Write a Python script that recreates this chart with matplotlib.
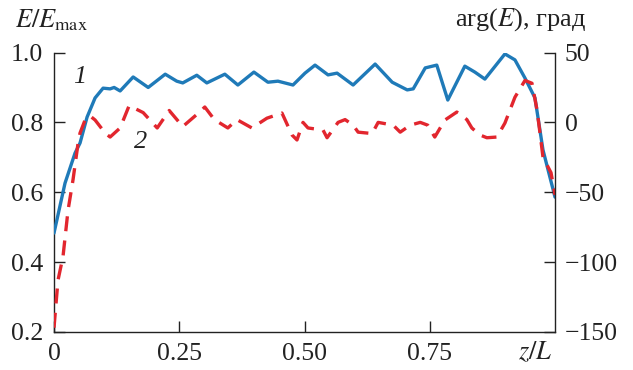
import numpy as np
import matplotlib
matplotlib.use('Agg')
import matplotlib.pyplot as plt

plt.rcParams['font.family'] = ['Liberation Serif', 'DejaVu Serif']
plt.rcParams['mathtext.fontset'] = 'stix'

# curve 1: E/Emax (left axis)
z1 = [0, 0.022, 0.042, 0.052, 0.066, 0.082, 0.098, 0.112, 0.120, 0.132, 0.158,
      0.188, 0.222, 0.245, 0.257, 0.285, 0.305, 0.341, 0.367, 0.399, 0.427, 0.447,
      0.477, 0.501, 0.521, 0.547, 0.565, 0.597, 0.641, 0.675, 0.705, 0.717, 0.741,
      0.764, 0.786, 0.820, 0.840, 0.860, 0.900, 0.920, 0.940, 0.960, 0.976, 1.0]
e1 = [0.483, 0.626, 0.712, 0.741, 0.815, 0.870, 0.898, 0.896, 0.900, 0.890, 0.930,
      0.900, 0.938, 0.918, 0.913, 0.935, 0.913, 0.938, 0.907, 0.944, 0.915, 0.918,
      0.907, 0.941, 0.964, 0.936, 0.941, 0.907, 0.967, 0.915, 0.893, 0.896, 0.956,
      0.964, 0.864, 0.961, 0.944, 0.924, 0.996, 0.979, 0.927, 0.870, 0.721, 0.586]

# curve 2: arg(E), degrees (right axis)
z2 = [0, 0.008, 0.018, 0.028, 0.038, 0.048, 0.052, 0.062, 0.072, 0.082, 0.102,
      0.112, 0.132, 0.150, 0.178, 0.206, 0.230, 0.257, 0.291, 0.301, 0.320, 0.347,
      0.365, 0.395, 0.425, 0.455, 0.475, 0.485, 0.497, 0.507, 0.537, 0.545, 0.567,
      0.581, 0.597, 0.607, 0.635, 0.647, 0.677, 0.691, 0.711, 0.731, 0.746, 0.760,
      0.780, 0.804, 0.824, 0.834, 0.850, 0.864, 0.884, 0.900, 0.920, 0.940, 0.954,
      0.964, 0.970, 0.976, 0.992, 1.0]
ph2 = [-147, -113, -96, -63, -41, -15, -7.6, 1.7, 4.6, 1.7, -7.6,
       -10.5, -4, 12, 7, -4, 8.5, -3, 7.5, 11, 2, -4,
       2, -4, 3, 6.7, -9, -12.6, 0, -4, -5.5, -11, 0,
       2, -2, -7, -8, 0, -2, -7, -2, 0, -2, -10.5,
       1.6, 7.4, 2, -4, -9, -11, -10.5, -0.5, 18, 30, 28,
       9, -7.6, -25, -36, -52]

xticks = [0, 0.25, 0.5, 0.75]
xlabels = ['0', '0.25', '0.50', '0.75']
yticks_l = [0.2, 0.4, 0.6, 0.8, 1.0]
yticks_r = [-150, -100, -50, 0, 50]

blue = '#1f7ab8'
red = '#e2262e'
ink = '#222222'

fig = plt.figure(figsize=(6.33, 3.70), dpi=100)
ax = fig.add_axes([0.0853, 0.103, 0.7915, 0.755])
ax2 = ax.twinx()

ax.plot(z1, e1, color=blue, lw=2.4, solid_capstyle='round', solid_joinstyle='round', zorder=3)
ax2.plot(z2, ph2, color=red, lw=2.4, dashes=(4.5, 2.8), zorder=2)

ax.set_xlim(0, 1)
ax.set_ylim(0.2, 1.0)
ax2.set_ylim(-150, 50)
ax.set_xticks(xticks)
ax.set_xticklabels(xlabels)
ax.set_yticks(yticks_l)
ax.set_yticklabels(['%.1f' % v for v in yticks_l])
ax2.set_yticks(yticks_r)
ax2.set_yticklabels([('\u2212%d' % -v) if v < 0 else '%d' % v for v in yticks_r])

for a in (ax, ax2):
    a.spines['top'].set_visible(False)
    a.tick_params(direction='in', length=8, width=1, labelsize=18.5, colors=ink)
    for s in a.spines.values():
        s.set_linewidth(1)
        s.set_color(ink)
ax.spines['right'].set_visible(False)
ax2.spines['left'].set_visible(False)
ax2.spines['bottom'].set_visible(False)
ax.tick_params(axis='x', pad=8)
ax.tick_params(axis='y', pad=8)
ax2.tick_params(axis='y', pad=7)

fig.text(0.082, 0.946, r'$E/E_{\rm max}$', fontsize=19, ha='center', va='center', color=ink)
fig.text(0.823, 0.946, r'arg($E$), град', fontsize=19, ha='center', va='center', color=ink)
fig.text(0.845, 0.05, r'$z/L$', fontsize=19, ha='center', va='center', color=ink)

ax.text(0.052, 0.914, '1', transform=ax.transAxes, fontsize=19, style='italic',
        ha='center', va='center', color=ink)
ax.text(0.172, 0.68, '2', transform=ax.transAxes, fontsize=19, style='italic',
        ha='center', va='center', color=ink)

fig.savefig('out.png', dpi=100)
